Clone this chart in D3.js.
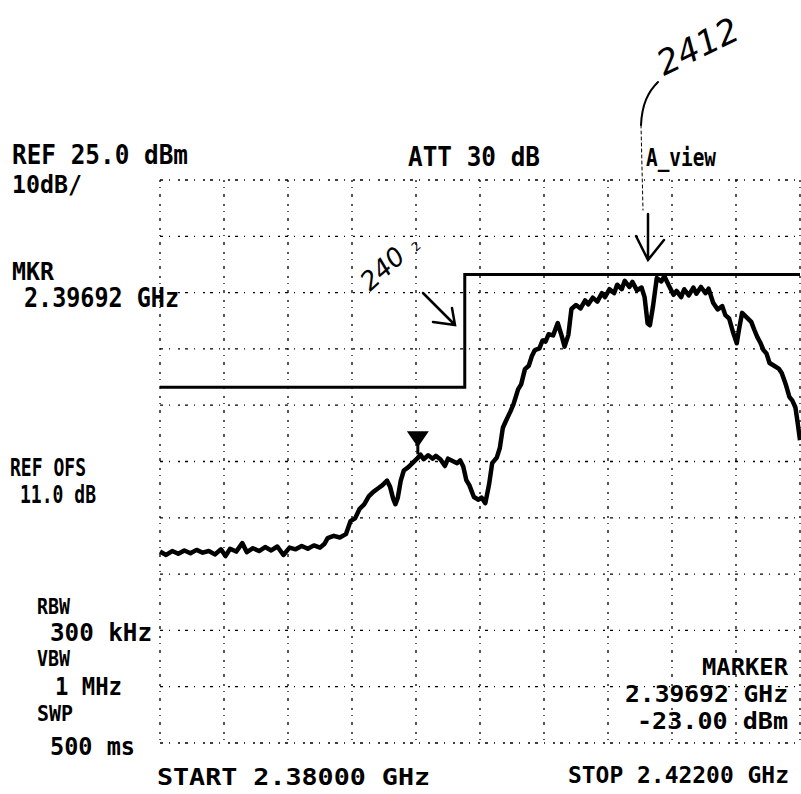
<html>
<head>
	<title>spectrum plot</title>
	<style>
		body { margin: 0; background-color: #ffffff; }
	</style>
</head>
<body>

<div id="dataviz"></div>

<script src="https://d3js.org/d3.v7.min.js"></script>
<script>

	//sweep settings
	var startFreq = 2380.0;   // MHz
	var stopFreq = 2422.0;    // MHz
	var refLevel = 25.0;      // dBm
	var dbPerDiv = 10;
	var divisions = 10;

	//trace, frequency in MHz
	var traceFreq = [
		2380.0, 2380.4, 2380.8, 2381.2, 2381.6, 2382.0, 2382.4, 2382.8, 2383.2, 2383.6,
		2384.0, 2384.3, 2384.6, 2385.0, 2385.4, 2385.7, 2386.1, 2386.5, 2386.9, 2387.3,
		2387.7, 2388.1, 2388.5, 2388.9, 2389.3, 2389.7, 2390.1, 2390.5, 2390.8, 2391.0,
		2391.4, 2391.8, 2392.2, 2392.5, 2392.8, 2393.1, 2393.4, 2393.7, 2394.0, 2394.3,
		2394.6, 2394.9, 2395.1, 2395.3, 2395.45, 2395.6, 2395.8, 2396.0, 2396.3, 2396.6,
		2396.9, 2397.1, 2397.3, 2397.6, 2397.9, 2398.1, 2398.4, 2398.7, 2398.9, 2399.2,
		2399.5, 2399.7, 2399.9, 2400.1, 2400.3, 2400.6, 2400.9, 2401.1, 2401.35, 2401.6,
		2401.8, 2402.1, 2402.3, 2402.5, 2402.7, 2403.0, 2403.2, 2403.5, 2403.7, 2403.95,
		2404.2, 2404.4, 2404.6, 2404.9, 2405.1, 2405.3, 2405.5, 2405.8, 2406.1, 2406.35,
		2406.55, 2406.8, 2407.0, 2407.3, 2407.6, 2407.9, 2408.1, 2408.4, 2408.7, 2409.0,
		2409.2, 2409.5, 2409.8, 2410.0, 2410.3, 2410.5, 2410.8, 2411.0, 2411.3, 2411.6,
		2411.8, 2412.0, 2412.15, 2412.35, 2412.6, 2412.9, 2413.1, 2413.4, 2413.7, 2413.9,
		2414.2, 2414.4, 2414.7, 2415.0, 2415.2, 2415.5, 2415.8, 2416.0, 2416.3, 2416.6,
		2416.9, 2417.1, 2417.35, 2417.6, 2417.85, 2418.0, 2418.2, 2418.5, 2418.8, 2419.0,
		2419.2, 2419.4, 2419.6, 2419.8, 2420.0, 2420.3, 2420.6, 2420.8, 2421.0, 2421.1,
		2421.3, 2421.5, 2421.7, 2421.85, 2422.0
	];

	//trace level in dBm
	var traceLevel = [
		-41.0, -41.6, -40.9, -41.4, -40.8, -41.3, -40.7, -41.2, -40.9, -41.5,
		-40.6, -41.8, -40.5, -41.0, -39.5, -41.1, -40.4, -40.9, -40.2, -40.8,
		-40.1, -41.6, -40.3, -40.6, -40.0, -40.5, -39.9, -40.3, -39.6, -38.6,
		-38.2, -38.5, -37.9, -35.6, -35.1, -33.4, -32.6, -31.2, -30.4, -29.8,
		-29.2, -28.4, -29.5, -31.6, -32.6, -31.5, -28.4, -26.6, -26.0, -25.2,
		-24.4, -23.8, -24.6, -23.9, -24.5, -24.0, -24.6, -25.8, -24.5, -24.9,
		-25.3, -24.8, -25.9, -28.3, -29.2, -31.3, -31.8, -31.4, -32.4, -29.0,
		-25.3, -24.3, -22.6, -19.0, -17.8, -16.1, -14.8, -12.2, -11.3, -8.6,
		-8.0, -6.3, -5.2, -4.9, -3.5, -3.7, -2.4, -2.6, -0.4, -2.6,
		-4.6, -2.5, 2.1, 2.8, 2.2, 3.6, 2.9, 4.1, 3.4, 4.9,
		4.2, 5.6, 4.9, 6.4, 5.6, 7.1, 6.0, 6.9, 5.4, 5.9,
		4.2, -0.5, -0.8, 2.5, 7.6, 7.0, 7.9, 6.2, 4.6, 5.3,
		4.2, 5.6, 4.5, 5.9, 4.8, 6.0, 4.9, 5.7, 3.2, 2.0,
		2.6, 1.0, 0.4, -2.0, -4.0, -1.5, 1.4, 0.6, -0.2, -1.6,
		-2.9, -3.9, -5.2, -5.8, -7.5, -8.0, -8.5, -9.3, -10.8, -11.6,
		-13.5, -14.2, -15.4, -18.2, -21.2
	];

	//limit line
	var limitFreq = [2380.0, 2400.0, 2400.0, 2422.0];
	var limitLevel = [-11.8, -11.8, 8.2, 8.2];

	//marker
	var markerFreq = 2396.92;
	var markerLevel = -23.00;

	//display variables
	var width = 801;
	var height = 794;

	var svg = d3.select('#dataviz')
		.append('svg')
		.attr('width', width)
		.attr('height', height);

	svg.append('rect').attr('x', 0).attr('y', 0).attr('width', width).attr('height', height).attr('fill', '#ffffff');

	//screen scales
	var x = d3.scaleLinear().domain([startFreq, stopFreq]).range([160, 800]);
	var y = d3.scaleLinear().domain([refLevel, refLevel - dbPerDiv * divisions]).range([180, 743]);

	var xGrid = d3.range(divisions + 1).map(function(i){ return startFreq + i * (stopFreq - startFreq) / divisions; });
	var yGrid = d3.range(divisions + 1).map(function(i){ return refLevel - i * dbPerDiv; });

	//dotted graticule
	var grid = svg.append('g');
	grid.selectAll('.vgrid')
		.data(xGrid)
		.enter()
		.append('line')
		.attr('x1', function(d){ return x(d); })
		.attr('x2', function(d){ return x(d); })
		.attr('y1', y(refLevel))
		.attr('y2', y(refLevel - dbPerDiv * divisions))
		.attr('stroke', '#000')
		.attr('stroke-width', 1.3)
		.attr('stroke-dasharray', '2,5,1,6,3,7');

	grid.selectAll('.hgrid')
		.data(yGrid)
		.enter()
		.append('line')
		.attr('x1', x(startFreq))
		.attr('x2', x(stopFreq))
		.attr('y1', function(d){ return y(d); })
		.attr('y2', function(d){ return y(d); })
		.attr('stroke', '#000')
		.attr('stroke-width', 1.3)
		.attr('stroke-dasharray', '3,6,1,8,2,5');

	//limit line
	var lineGen = d3.line()
		.x(function(d){ return x(d[0]); })
		.y(function(d){ return y(d[1]); });

	svg.append('path')
		.datum(d3.zip(limitFreq, limitLevel))
		.attr('d', lineGen)
		.attr('fill', 'none')
		.attr('stroke', '#000')
		.attr('stroke-width', 3);

	//trace
	svg.append('path')
		.datum(d3.zip(traceFreq, traceLevel))
		.attr('d', lineGen)
		.attr('fill', 'none')
		.attr('stroke', '#000')
		.attr('stroke-width', 4.5)
		.attr('stroke-linejoin', 'round');

	//marker triangle sitting on the trace
	var mx = x(markerFreq), my = y(markerLevel);
	svg.append('path')
		.attr('d', 'M' + (mx - 11) + ',' + (my - 19) + 'L' + (mx + 11) + ',' + (my - 19) + 'L' + mx + ',' + (my - 3) + 'Z')
		.attr('fill', '#000');
	svg.append('line')
		.attr('x1', mx).attr('x2', mx)
		.attr('y1', my - 6).attr('y2', my + 4)
		.attr('stroke', '#000').attr('stroke-width', 3);

	//instrument annotations: text, left x, baseline, width, size
	var labels = [
		['REF 25.0 dBm', 12, 164, 176, 26],
		['10dB/', 12, 193, 70, 24],
		['ATT 30 dB', 408, 166, 132, 26],
		['A_view', 646, 166, 70, 24],
		['MKR', 12, 280, 42, 24],
		['2.39692 GHz', 24, 307, 155, 26],
		['REF OFS', 10, 476, 76, 24],
		['11.0 dB', 20, 503, 76, 24],
		['RBW', 37, 614, 33, 22],
		['300 kHz', 50, 641, 102, 24],
		['VBW', 37, 666, 33, 22],
		['1 MHz', 55, 695, 67, 24],
		['SWP', 37, 721, 36, 22],
		['500 ms', 50, 755, 85, 24],
		['MARKER', 702, 675, 86, 23],
		['2.39692 GHz', 625, 702, 163, 23],
		['-23.00 dBm', 637, 729, 151, 23],
		['START 2.38000 GHz', 157, 785, 273, 23],
		['STOP 2.42200 GHz', 568, 783, 221, 23]
	];

	svg.selectAll('.labels')
		.data(labels)
		.enter()
		.append('text')
		.attr('x', function(d){ return d[1]; })
		.attr('y', function(d){ return d[2]; })
		.attr('textLength', function(d){ return d[3]; })
		.attr('lengthAdjust', 'spacingAndGlyphs')
		.attr('font-family', 'DejaVu Sans Mono')
		.attr('font-weight', 'bold')
		.attr('font-size', function(d){ return d[4]; })
		.attr('fill', '#000')
		.text(function(d){ return d[0]; });

	//hand written notes
	svg.append('text')
		.attr('transform', 'translate(664,76) rotate(-26)')
		.attr('font-family', 'DejaVu Sans')
		.attr('font-style', 'italic')
		.attr('font-size', 34)
		.attr('fill', '#000')
		.text('2412');

	svg.append('text')
		.attr('transform', 'translate(370,292) rotate(-42)')
		.attr('font-family', 'DejaVu Sans')
		.attr('font-style', 'italic')
		.attr('font-size', 26)
		.attr('fill', '#000')
		.text('240');
	svg.append('text')
		.attr('transform', 'translate(416,252) rotate(-42)')
		.attr('font-family', 'DejaVu Sans')
		.attr('font-size', 12)
		.attr('fill', '#000')
		.text('2');

	var pen = svg.append('g')
		.attr('fill', 'none')
		.attr('stroke', '#000')
		.attr('stroke-width', 2.5)
		.attr('stroke-linecap', 'round');

	//curve from 2412 note down to arrow
	pen.append('path').attr('d', 'M658,82 C648,92 642,104 641,125').attr('stroke-width', 2);
	pen.append('path').attr('d', 'M641,125 L643,210').attr('stroke-width', 1).attr('stroke-dasharray', '3,3');
	pen.append('path').attr('d', 'M648,214 L648,260 M636,236 L648,260 L664,240');

	//arrow pointing at the 2.4 GHz step
	pen.append('path').attr('d', 'M423,293 L455,325 M433,322 L455,325 L452,308');

</script>
</body>
</html>
